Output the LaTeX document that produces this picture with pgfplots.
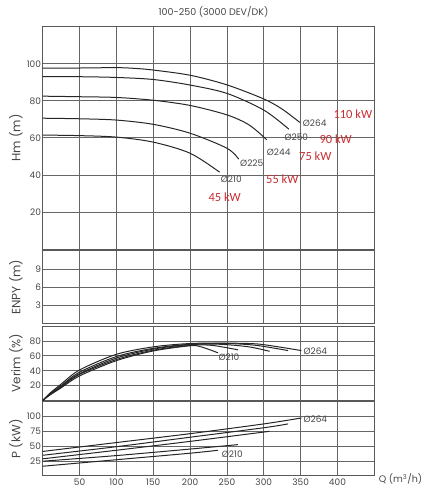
\documentclass[border=0pt]{standalone}
\usepackage{pgfplots}
\pgfplotsset{compat=1.18}
\usepackage{fontspec}
\setmainfont{Poppins}
\newfontfamily\kwfont{Carlito}
\definecolor{kwred}{RGB}{200,45,50}
\definecolor{txt}{RGB}{70,70,70}
\pgfplotsset{
 panel/.style={
  scale only axis, width=331.6pt, anchor=north west,
  xmin=0, xmax=450, xtick={50,100,...,400},
  grid=major, grid style={black!60, line width=0.8pt},
  axis line style={black!65, line width=1pt},
  major tick length=0pt,
  /pgf/number format/assume math mode=true,
  ticklabel style={font=\fontsize{9}{9}\selectfont, text=txt},
  yticklabel style={inner xsep=1.5pt},
  ylabel style={at={(axis description cs:-0.0805,0.5)}, anchor=center, font=\fontsize{12}{12}\selectfont, text=txt},
  cycle list={{black!85,line width=1pt,mark=none,smooth}\\},
 },
}
\begin{document}
\begin{tikzpicture}
\path (0pt,0pt) rectangle (442pt,-500pt);
% Hm panel
\begin{axis}[panel, at={(42.7pt,-26.7pt)}, height=222.3pt,
  ymin=0, ymax=120, ytick={20,40,60,80,100}, xticklabels={}, ylabel={Hm (m)}]
\addplot coordinates {(0,97.6) (50,97.7) (100,97.9) (125,97.5) (150,96.6) (200,93.8) (250,88.6) (300,81) (325,75.5) (349,68.3)};
\addplot coordinates {(0,93) (50,93) (100,92.6) (150,91.5) (200,88.5) (250,84) (300,75) (334,64.7)};
\addplot coordinates {(0,82.5) (50,82.2) (100,81.8) (150,80.3) (200,77.5) (250,72.4) (280,67) (304,59)};
\addplot coordinates {(0,70.6) (50,70.3) (100,69.6) (150,67.3) (200,62.5) (250,54.4) (266,48.5)};
\addplot coordinates {(0,61.5) (50,61.2) (100,60.4) (150,57.7) (200,51.7) (240,41.5)};
\end{axis}
% ENPY panel
\begin{axis}[panel, at={(42.7pt,-250.7pt)}, height=72.8pt,
  ymin=0, ymax=12, ytick={3,6,9}, xticklabels={}, ylabel={ENPY (m)}]
\end{axis}
% Verim panel
\begin{axis}[panel, at={(42.7pt,-326pt)}, height=74.5pt,
  ymin=0, ymax=100, ytick={20,40,60,80}, xticklabels={}, ylabel={Verim (\%)}]
\addplot coordinates {(0,0) (10,10) (25,22) (50,41) (100,62) (150,72) (200,76.5) (250,77) (290,76) (320,72) (351,67)};
\addplot coordinates {(0,0) (10,9) (25,20) (50,38) (100,59) (150,70) (200,75.5) (250,76.5) (290,74) (333,67)};
\addplot coordinates {(0,0) (10,8.5) (25,19) (50,36) (100,57) (150,69) (200,75) (240,75.5) (280,72) (308,66)};
\addplot coordinates {(0,0) (10,8) (25,18) (50,35) (100,55) (150,67.5) (200,74) (230,74) (265,68)};
\addplot coordinates {(0,0) (10,7.5) (25,17) (50,33) (100,53.5) (150,66.5) (200,73.5) (215,72) (238,64)};
\end{axis}
% P panel
\begin{axis}[panel, at={(42.7pt,-401.7pt)}, height=74pt,
  ymin=0, ymax=125, ytick={25,50,75,100}, ylabel={P (kW)}]
\addplot coordinates {(0,41) (100,56) (200,71) (300,87.5) (351,97.5)};
\addplot coordinates {(0,34.5) (100,49) (200,65) (300,81) (333,87.5)};
\addplot coordinates {(0,28.5) (100,43) (200,58) (308,75)};
\addplot coordinates {(0,24.5) (100,34) (200,45) (265,52.5)};
\addplot coordinates {(0,16) (100,27) (200,38) (238,43)};
\end{axis}
% texts
\node[font=\fontsize{9.5}{10}\selectfont, text=txt] at (213.5pt,-12pt) {100-250 (3000 DEV/DK)};
\begin{scope}[every node/.style={anchor=west, font=\fontsize{9}{9}\selectfont, text=txt, inner sep=0pt}]
\node at (302.7pt,-123.3pt) {Ø264};
\node at (284.3pt,-137.7pt) {Ø250};
\node at (266.7pt,-152.3pt) {Ø244};
\node at (240pt,-163.3pt) {Ø225};
\node at (220.7pt,-179pt) {Ø210};
\node at (218.3pt,-357.7pt) {Ø210};
\node at (303.3pt,-351.7pt) {Ø264};
\node at (303.3pt,-419.7pt) {Ø264};
\node at (221.7pt,-454.7pt) {Ø210};
\end{scope}
\begin{scope}[every node/.style={anchor=west, font=\kwfont\fontsize{12.5}{12.5}\selectfont, text=kwred, inner sep=0pt}]
\node at (333.3pt,-114pt) {110 kW};
\node at (319.3pt,-139pt) {90 kW};
\node at (299pt,-156pt) {75 kW};
\node at (266pt,-179pt) {55 kW};
\node at (208.3pt,-197.7pt) {45 kW};
\end{scope}
\node[font=\fontsize{9.5}{10}\selectfont, text=txt] at (400.5pt,-479.3pt) {Q (m\textsuperscript{3}/h)};
\end{tikzpicture}
\end{document}
